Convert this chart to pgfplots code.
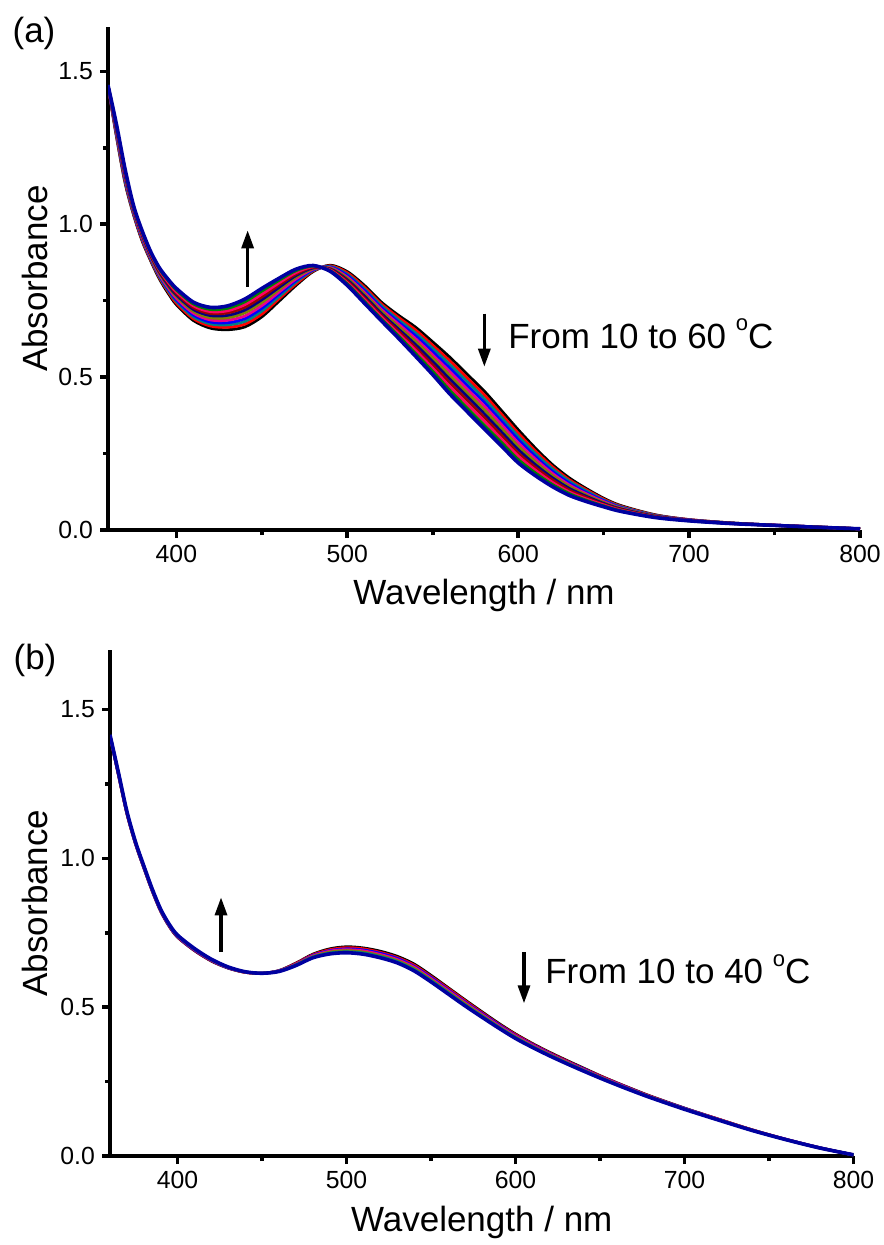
\documentclass[border=0pt]{standalone}
\usepackage{fontspec}
\setmainfont{Liberation Sans}
\usepackage{pgfplots}
\usepackage{pgfplotstable}
\pgfplotsset{compat=1.18}
\usetikzlibrary{arrows.meta}

\definecolor{cTeal}{HTML}{008080}
\definecolor{cOlive}{HTML}{808000}
\definecolor{cNavy}{HTML}{000080}
\definecolor{cWine}{HTML}{990000}
\definecolor{cPink}{HTML}{FF0066}
\definecolor{cGreen}{HTML}{008000}
\definecolor{cRoyal}{HTML}{0000A0}

% panel (a): 10 -> 60 C, columns c0 (10 C) ... c10 (60 C)
\pgfplotstableread{
x   c0    c1    c2    c3    c4    c5    c6    c7    c8    c9    c10
360 1.452 1.452 1.453 1.453 1.453 1.454 1.454 1.454 1.454 1.455 1.455
365 1.285 1.289 1.293 1.297 1.301 1.305 1.309 1.313 1.317 1.321 1.325
370 1.135 1.140 1.144 1.149 1.153 1.158 1.162 1.167 1.171 1.176 1.180
375 1.030 1.033 1.036 1.039 1.042 1.045 1.048 1.051 1.054 1.057 1.060
380 0.945 0.948 0.952 0.955 0.958 0.962 0.965 0.968 0.971 0.975 0.978
385 0.880 0.883 0.886 0.889 0.892 0.895 0.898 0.901 0.904 0.907 0.910
390 0.822 0.826 0.829 0.833 0.836 0.840 0.844 0.847 0.851 0.854 0.858
395 0.776 0.781 0.785 0.790 0.794 0.799 0.803 0.808 0.812 0.817 0.821
400 0.737 0.742 0.748 0.753 0.758 0.764 0.769 0.774 0.779 0.785 0.790
410 0.685 0.691 0.697 0.703 0.709 0.715 0.721 0.727 0.733 0.739 0.745
420 0.660 0.667 0.674 0.680 0.687 0.694 0.701 0.708 0.714 0.721 0.728
430 0.655 0.663 0.671 0.678 0.686 0.694 0.702 0.710 0.717 0.725 0.733
440 0.664 0.673 0.682 0.691 0.700 0.710 0.719 0.728 0.737 0.746 0.755
450 0.697 0.706 0.716 0.725 0.734 0.744 0.753 0.762 0.771 0.781 0.790
460 0.748 0.756 0.763 0.771 0.778 0.786 0.793 0.801 0.808 0.816 0.823
470 0.800 0.805 0.811 0.816 0.821 0.827 0.832 0.837 0.842 0.848 0.853
480 0.845 0.847 0.849 0.851 0.853 0.855 0.857 0.859 0.861 0.863 0.865
490 0.866 0.864 0.862 0.860 0.858 0.856 0.854 0.852 0.850 0.848 0.846
500 0.845 0.841 0.836 0.832 0.827 0.823 0.818 0.814 0.809 0.805 0.800
510 0.800 0.794 0.788 0.783 0.777 0.771 0.765 0.759 0.754 0.748 0.742
520 0.745 0.739 0.733 0.727 0.721 0.715 0.708 0.702 0.696 0.690 0.684
530 0.702 0.695 0.687 0.680 0.673 0.665 0.657 0.650 0.642 0.635 0.627
540 0.663 0.654 0.644 0.635 0.625 0.616 0.606 0.596 0.587 0.577 0.568
550 0.615 0.604 0.594 0.583 0.572 0.562 0.551 0.540 0.529 0.519 0.508
560 0.565 0.553 0.541 0.529 0.517 0.505 0.493 0.481 0.469 0.457 0.445
570 0.510 0.498 0.486 0.473 0.461 0.449 0.437 0.425 0.412 0.400 0.388
580 0.455 0.443 0.430 0.418 0.406 0.394 0.381 0.369 0.357 0.344 0.332
590 0.392 0.380 0.369 0.357 0.346 0.334 0.322 0.311 0.299 0.288 0.276
600 0.328 0.317 0.306 0.296 0.285 0.274 0.263 0.252 0.242 0.231 0.220
610 0.268 0.259 0.250 0.241 0.232 0.223 0.214 0.205 0.196 0.187 0.178
620 0.214 0.207 0.200 0.192 0.185 0.178 0.171 0.164 0.156 0.149 0.142
630 0.170 0.164 0.159 0.153 0.147 0.142 0.136 0.130 0.124 0.119 0.113
640 0.135 0.131 0.127 0.122 0.118 0.114 0.110 0.106 0.101 0.097 0.093
650 0.104 0.101 0.098 0.096 0.093 0.090 0.087 0.084 0.082 0.079 0.076
660 0.080 0.078 0.076 0.074 0.072 0.071 0.069 0.067 0.065 0.063 0.061
680 0.050 0.049 0.048 0.047 0.046 0.046 0.045 0.044 0.043 0.042 0.041
700 0.034 0.034 0.033 0.033 0.032 0.032 0.032 0.031 0.031 0.030 0.030
725 0.023 0.023 0.023 0.022 0.022 0.022 0.022 0.022 0.021 0.021 0.021
750 0.016 0.016 0.016 0.016 0.016 0.015 0.015 0.015 0.015 0.015 0.015
775 0.010 0.010 0.010 0.010 0.010 0.010 0.009 0.009 0.009 0.009 0.009
800 0.004 0.004 0.004 0.004 0.004 0.004 0.004 0.004 0.004 0.004 0.004
}\tabA

% panel (b): 10 -> 40 C, columns c0 (10 C) ... c6 (40 C)
\pgfplotstableread{
x   c0    c1    c2    c3    c4    c5    c6
360 1.410 1.411 1.412 1.413 1.413 1.414 1.415
365 1.280 1.281 1.283 1.284 1.285 1.287 1.288
370 1.150 1.151 1.153 1.154 1.155 1.157 1.158
375 1.050 1.051 1.052 1.054 1.055 1.056 1.057
380 0.968 0.969 0.970 0.972 0.973 0.974 0.975
385 0.890 0.891 0.892 0.894 0.895 0.896 0.897
390 0.822 0.823 0.824 0.826 0.827 0.828 0.829
395 0.772 0.773 0.774 0.776 0.777 0.778 0.779
400 0.735 0.736 0.737 0.739 0.740 0.741 0.742
410 0.690 0.691 0.692 0.694 0.695 0.696 0.697
420 0.655 0.656 0.657 0.658 0.659 0.660 0.661
430 0.631 0.632 0.632 0.633 0.634 0.634 0.635
440 0.617 0.617 0.618 0.618 0.618 0.619 0.619
450 0.614 0.614 0.614 0.614 0.614 0.614 0.614
460 0.623 0.622 0.622 0.622 0.621 0.621 0.620
470 0.648 0.647 0.645 0.644 0.643 0.641 0.640
480 0.678 0.676 0.674 0.672 0.670 0.668 0.666
490 0.696 0.693 0.690 0.688 0.685 0.682 0.679
500 0.703 0.700 0.696 0.693 0.690 0.686 0.683
510 0.699 0.696 0.692 0.689 0.685 0.682 0.678
520 0.688 0.684 0.681 0.677 0.673 0.670 0.666
530 0.671 0.667 0.664 0.660 0.656 0.653 0.649
540 0.645 0.641 0.637 0.634 0.630 0.626 0.622
550 0.607 0.603 0.600 0.596 0.592 0.589 0.585
560 0.566 0.563 0.559 0.556 0.552 0.549 0.545
570 0.525 0.522 0.518 0.515 0.512 0.508 0.505
580 0.485 0.482 0.479 0.476 0.473 0.470 0.467
590 0.446 0.443 0.441 0.438 0.435 0.433 0.430
600 0.410 0.408 0.405 0.403 0.400 0.398 0.395
610 0.378 0.376 0.374 0.372 0.369 0.367 0.365
620 0.349 0.347 0.345 0.343 0.341 0.339 0.337
630 0.322 0.320 0.318 0.317 0.315 0.313 0.311
640 0.296 0.294 0.293 0.291 0.289 0.288 0.286
650 0.270 0.269 0.267 0.266 0.265 0.263 0.262
660 0.246 0.245 0.244 0.243 0.241 0.240 0.239
670 0.223 0.222 0.221 0.220 0.219 0.218 0.217
680 0.201 0.200 0.199 0.199 0.198 0.197 0.196
700 0.161 0.160 0.160 0.159 0.158 0.158 0.157
720 0.124 0.124 0.123 0.123 0.122 0.122 0.121
740 0.088 0.088 0.087 0.087 0.087 0.086 0.086
760 0.056 0.056 0.056 0.056 0.055 0.055 0.055
780 0.028 0.028 0.028 0.027 0.027 0.027 0.027
800 0.004 0.004 0.004 0.004 0.004 0.004 0.004
}\tabB

\newcommand{\bigfont}{\fontsize{17.5}{21}\selectfont}
\newcommand{\degC}{\raisebox{8.6pt}{\fontsize{11}{11}\selectfont o}C}

\tikzset{arr/.style={line width=1.6pt,-{Triangle[length=9pt,width=6pt]}}}

\pgfplotsset{
  spec/.style={
    scale only axis,
    axis x line=bottom, axis y line=left,
    axis line style={line width=2pt,-},
    xmin=360, xmax=800, ymin=0,
    xtick={400,500,...,800},
    ytick={0,0.5,1,1.5},
    minor x tick num=1, minor y tick num=1,
    tick align=outside,
    major tick length=4pt, minor tick length=2.5pt,
    every tick/.style={black,line width=1.8pt},
    tick label style={font=\fontsize{12.4}{14}\selectfont},
    /pgf/number format/assume math mode=true,
    y tick label style={/pgf/number format/.cd,fixed,fixed zerofill,precision=1},
    xlabel={Wavelength / nm},
    ylabel={Absorbance},
    every axis x label/.style={at={(axis description cs:0.5,-0.149)},anchor=base,font=\bigfont},
    every axis plot/.append style={smooth,line width=1.4pt},
  },
}

\begin{document}
\begin{tikzpicture}
\useasboundingbox (0,0) rectangle (441.5pt,-622.5pt);

% ---------- (a) ----------
\begin{axis}[spec, at={(54pt,-265pt)}, anchor=south west,
  width=376pt, height=251.5pt, ymax=1.645,
  every axis y label/.style={at={(axis description cs:-0.097,0.5)},rotate=90,anchor=center,font=\bigfont}]
\addplot[black]  table[x=x,y=c0]  {\tabA};
\addplot[red]    table[x=x,y=c1]  {\tabA};
\addplot[cTeal]  table[x=x,y=c2]  {\tabA};
\addplot[blue]   table[x=x,y=c3]  {\tabA};
\addplot[magenta] table[x=x,y=c4] {\tabA};
\addplot[cOlive] table[x=x,y=c5]  {\tabA};
\addplot[cNavy]  table[x=x,y=c6]  {\tabA};
\addplot[cWine]  table[x=x,y=c7]  {\tabA};
\addplot[cPink]  table[x=x,y=c8]  {\tabA};
\addplot[cGreen] table[x=x,y=c9]  {\tabA};
\addplot[cRoyal,line width=1.8pt] table[x=x,y=c10] {\tabA};
\draw[arr] (axis cs:441.7,0.795) -- (axis cs:441.7,0.98);
\draw[arr] (axis cs:580.2,0.708) -- (axis cs:580.2,0.534);
\node[anchor=base west,font=\bigfont,inner sep=0pt] at (axis cs:594,0.595) {From 10 to 60 \degC};
\end{axis}

% ---------- (b) ----------
\begin{axis}[spec, at={(55pt,-578pt)}, anchor=south west,
  width=371.75pt, height=253pt, ymax=1.70,
  every axis y label/.style={at={(axis description cs:-0.101,0.5)},rotate=90,anchor=center,font=\bigfont}]
\addplot[black]   table[x=x,y=c0] {\tabB};
\addplot[red]     table[x=x,y=c1] {\tabB};
\addplot[blue]    table[x=x,y=c2] {\tabB};
\addplot[magenta] table[x=x,y=c3] {\tabB};
\addplot[cOlive]  table[x=x,y=c4] {\tabB};
\addplot[cTeal]   table[x=x,y=c5] {\tabB};
\addplot[cRoyal,line width=1.8pt] table[x=x,y=c6] {\tabB};
\draw[arr] (axis cs:425.7,0.685) -- (axis cs:425.7,0.869);
\draw[arr] (axis cs:605,0.685) -- (axis cs:605,0.513);
\node[anchor=base west,font=\bigfont,inner sep=0pt] at (axis cs:617.4,0.58) {From 10 to 40 \degC};
\end{axis}

\node[font=\bigfont] at (17pt,-16.5pt) {(a)};
\node[font=\bigfont] at (17.5pt,-330pt) {(b)};
\end{tikzpicture}
\end{document}
